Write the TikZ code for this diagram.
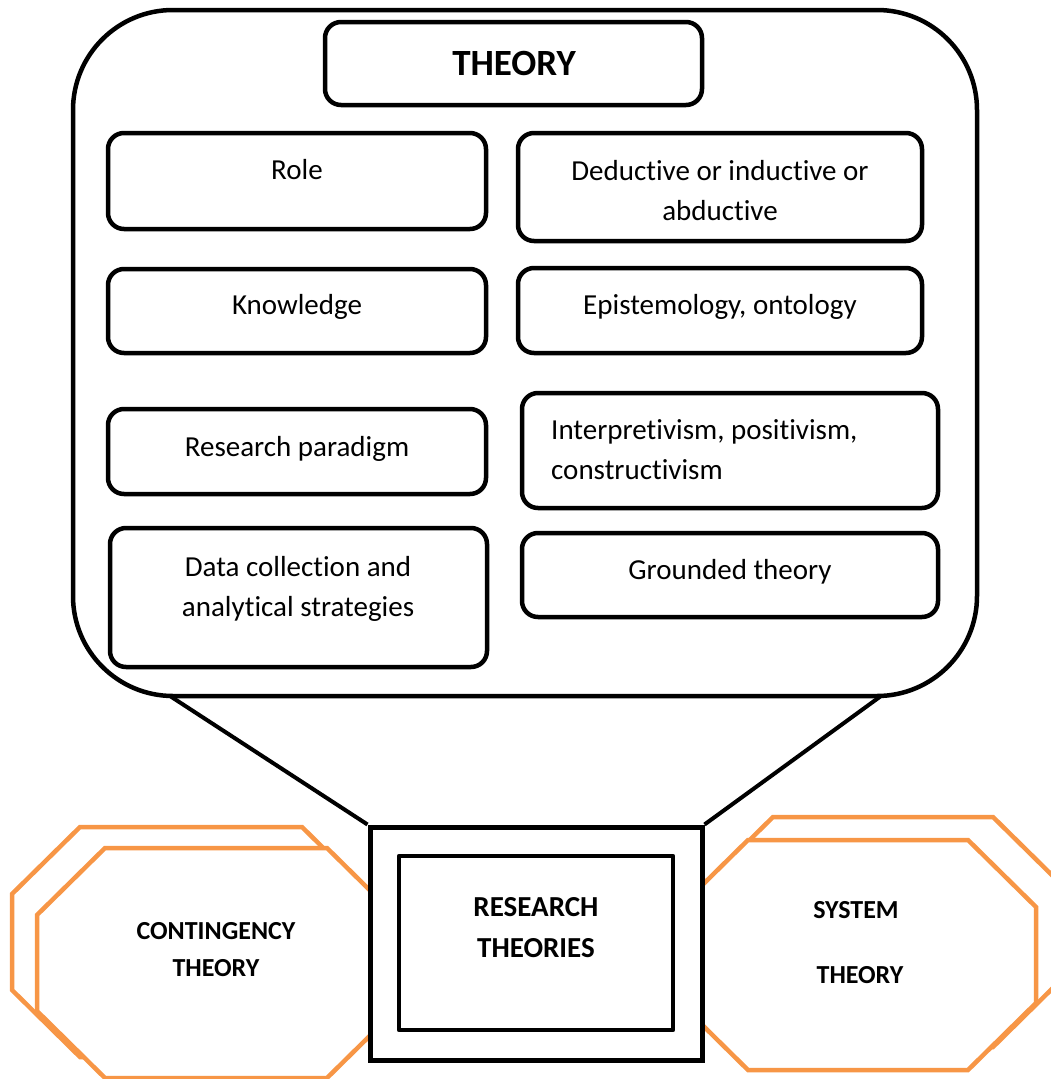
\documentclass[tikz,border=0pt]{standalone}
\usepackage{fontspec}
\setmainfont{Carlito}[Ligatures=NoCommon]
\definecolor{octorange}{HTML}{F79646}
\tikzset{
  frame/.style={draw=black, line width=4.5pt, rounded corners=16pt, inner sep=0pt, fill=white},
  body/.style={font=\fontsize{29}{40}\selectfont, align=center, inner sep=0pt, anchor=base},
  octline/.style={draw=octorange, line width=4.5pt, line join=miter},
  octlabel/.style={font=\fontsize{26}{37}\selectfont\bfseries, inner sep=0pt, anchor=base},
  funnel/.style={draw=black, line width=4pt},
}
% octagon with corner cuts of 68 x 67, given by its bounding corners
\newcommand{\octpath}[4]{(#1+68,#2) -- (#3-68,#2) -- (#3,#2+67) -- (#3,#4-67) -- (#3-68,#4) -- (#1+68,#4) -- (#1,#4-67) -- (#1,#2+67) -- cycle}
\begin{document}
\begin{tikzpicture}[x=1pt,y=-1pt]
\useasboundingbox (0,0) rectangle (1051,1079);
\clip (0,0) rectangle (1051,1079);

% outer rounded container
\node[draw=black, line width=4.5pt, rounded corners=100pt, minimum width=904pt, minimum height=686pt, inner sep=0pt]
  (theorybox) at (525,353) {};

% title and item boxes (multi-line texts are placed by their last baseline)
\node[frame, minimum width=377pt, minimum height=83pt] (title) at (513.5,63.5) {};
\node[font=\fontsize{37}{44}\selectfont\bfseries, inner sep=0pt, anchor=base] (titletxt) at (514,75) {THEORY};

\node[frame, minimum width=378pt, minimum height=96pt] (role) at (297,181) {};
\node[body] (roletxt) at (297,179) {Role};

\node[frame, minimum width=404pt, minimum height=108pt] (ded) at (720,187) {};
\node[body] (dedtxt) at (720,220) {Deductive or inductive or\\abductive};

\node[frame, minimum width=378pt, minimum height=84pt] (know) at (297,311) {};
\node[body] (knowtxt) at (297,314) {Knowledge};

\node[frame, minimum width=404pt, minimum height=85pt] (epi) at (720,310.5) {};
\node[body] (epitxt) at (720,314) {Epistemology, ontology};

\node[frame, minimum width=378pt, minimum height=85pt] (para) at (297,451.5) {};
\node[body] (paratxt) at (297,456) {Research paradigm};

\node[frame, minimum width=416pt, minimum height=115pt] (interp) at (730,450.5) {};
\node[body, align=left, anchor=base west] (interptxt) at (551,479) {Interpretivism, positivism,\\constructivism};

\node[frame, minimum width=377pt, minimum height=139pt] (data) at (298.5,597.5) {};
\node[body] (datatxt) at (298,616) {Data collection and\\analytical strategies};

\node[frame, minimum width=416pt, minimum height=84pt] (grounded) at (730,575) {};
\node[body] (groundedtxt) at (730,579) {Grounded theory};

% funnel from the container down to the central square
\coordinate (fleft) at (170,696);
\coordinate (fright) at (881,696);
\node[draw=black, line width=5pt, fill=white, minimum width=332pt, minimum height=233pt, inner sep=0pt]
  (rsq) at (536,943.5) {};

% back octagons
\path[octline] \octpath{12}{827}{370}{1057};
\path[octline] \octpath{705}{817}{1061}{1047};
% front octagons
\path[octline, fill=white] \octpath{37}{848}{395}{1078};
\path[octline, fill=white] \octpath{680}{840}{1036}{1070};

\draw[funnel] (fleft) -- (rsq.north west);
\draw[funnel] (fright) -- (rsq.north east);

% central square drawn over the octagons
\node[draw=black, line width=5pt, fill=white, line join=round, minimum width=332pt, minimum height=233pt, inner sep=0pt]
  (rsqtop) at (536,943.5) {};
\node[draw=black, line width=4.5pt, line join=round, minimum width=274pt, minimum height=174pt, inner sep=0pt]
  (rinner) at (536,943) {};
\node[font=\fontsize{29}{41}\selectfont\bfseries, inner sep=0pt, anchor=base] (rtxt1) at (536,916) {RESEARCH};
\node[font=\fontsize{29}{41}\selectfont\bfseries, inner sep=0pt, anchor=base] (rtxt2) at (536,957) {THEORIES};

% octagon labels
\node[octlabel] (cont1) at (216,939) {CONTINGENCY};
\node[octlabel] (cont2) at (216,976) {THEORY};
\node[octlabel] (sys1) at (856,918) {SYSTEM};
\node[octlabel] (sys2) at (860,983) {THEORY};
\end{tikzpicture}
\end{document}
